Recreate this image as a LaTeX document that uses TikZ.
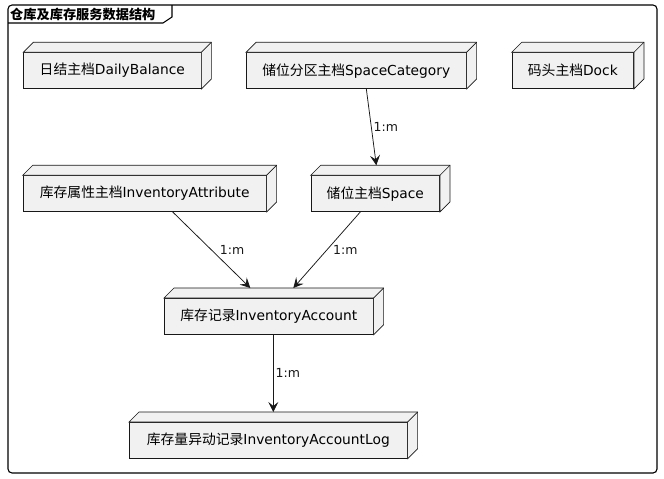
\documentclass[tikz,border=0pt]{standalone}
\usepackage{fontspec}
\setmainfont{DejaVu Sans}
\newfontfamily\cjk{Noto Sans CJK SC}
\usetikzlibrary{arrows.meta}
\definecolor{nf}{HTML}{F1F1F1}
\definecolor{lc}{HTML}{181818}
\tikzset{
  boxline/.style={draw=lc, line width=0.65pt, line join=miter},
  box/.style={boxline, fill=nf, minimum height=36, inner sep=0, anchor=north west, font=\fontsize{13.8}{16}\selectfont},
  arr/.style={draw=lc, line width=0.75pt, -{Stealth[length=10pt,width=10pt,inset=4pt]}},
  lbl/.style={font=\fontsize{12.5}{15}\selectfont, anchor=west, inner sep=0, text=lc},
}
\newcommand\threed[1]{%
  \draw[boxline, fill=nf] (#1.north west) -- ++(10,-10) -| ([shift={(10,-10)}]#1.south east) -- (#1.south east) -- (#1.north east) -- cycle;
  \draw[boxline] (#1.north east) -- ++(10,-10);
}
\begin{document}
\begin{tikzpicture}[x=1pt,y=-1pt]
\useasboundingbox (0,0) rectangle (664,479);
\fill[white] (0,0) rectangle (664,479);
% frame
\draw[black, line width=1.1pt, rounded corners=4] (8,5) rectangle (657,473);
\draw[black, line width=1.1pt] (8,23) -- (163,23) -- (172,17) -- (172,5);
\node[font=\cjk\bfseries\fontsize{13.2}{16}\selectfont, anchor=west, inner sep=0] (title) at (10,14) {仓库及库存服务数据结构};
% nodes
\node[box, minimum width=177.4] (db) at (23.3,52.3) {{\cjk 日结主档}DailyBalance};
\node[box, minimum width=220] (sc) at (246,52.3) {{\cjk 储位分区主档}SpaceCategory};
\node[box, minimum width=121.6] (dock) at (511.7,52.3) {{\cjk 码头主档}Dock};
\node[box, minimum width=243.3] (attr) at (22.7,175.3) {{\cjk 库存属性主档}InventoryAttribute};
\node[box, minimum width=128.6] (sp) at (310.7,175.3) {{\cjk 储位主档}Space};
\node[box, minimum width=209] (acc) at (164,298) {{\cjk 库存记录}InventoryAccount};
\node[box, minimum width=278] (log) at (129,422) {{\cjk 库存量异动记录}InventoryAccountLog};
\threed{db}\threed{sc}\threed{dock}\threed{attr}\threed{sp}\threed{acc}\threed{log}
% connectors
\draw[arr] ([xshift=10]sc.south) -- ([xshift=1,yshift=10]sp.north) node[lbl, pos=0.5, xshift=2] {1:m};
\draw[arr] ([xshift=28]attr.south) -- ([xshift=-18.5,yshift=10]acc.north) node[lbl, pos=0.5, xshift=8] {1:m};
\draw[arr] ([xshift=-15]sp.south) -- ([xshift=24.5,yshift=10]acc.north) node[lbl, pos=0.5, xshift=6] {1:m};
\draw[arr] ([xshift=4.5]acc.south) -- ([xshift=5,yshift=10]log.north) node[lbl, pos=0.5, xshift=2] {1:m};
\end{tikzpicture}
\end{document}
